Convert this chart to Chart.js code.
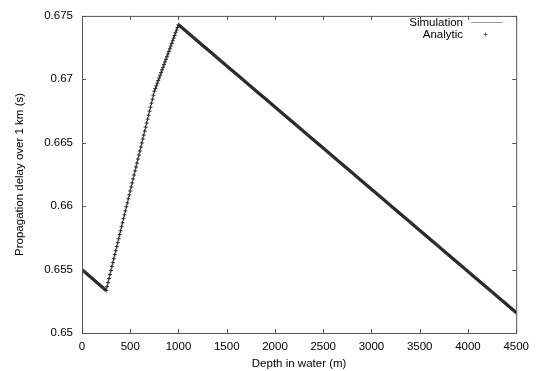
<!DOCTYPE html>
<html>
<head>
<meta charset="utf-8">
<script src="https://cdn.jsdelivr.net/npm/chart.js@4/dist/chart.umd.min.js"></script>
<style>
html,body{margin:0;padding:0;background:#fff;}
#wrap{width:536px;height:371px;}
</style>
</head>
<body>
<div id="wrap"><canvas id="c" width="536" height="371"></canvas></div>
<script>
// ---- data ----
const seriesNames = ['Simulation', 'Analytic'];
const xTitle = 'Depth in water (m)';
const yTitle = 'Propagation delay over 1 km (s)';
const xTickValues = [0, 500, 1000, 1500, 2000, 2500, 3000, 3500, 4000, 4500];
const xTickLabels = ['0', '500', '1000', '1500', '2000', '2500', '3000', '3500', '4000', '4500'];
const yTickValues = [0.65, 0.655, 0.66, 0.665, 0.67, 0.675];
const yTickLabels = ['0.65', '0.655', '0.66', '0.665', '0.67', '0.675'];

// Simulation curve (breakpoints of the piecewise line)
const simulationDepth = [0, 250, 750, 1000, 4500];
const simulationDelay = [0.65500, 0.65335, 0.66906, 0.67430, 0.65161];

// Analytic samples, 0..1000 m
const analyticDepthShallow = [
  0,10,20,30,40,50,60,70,80,90,100,110,120,130,140,150,160,170,180,190,200,210,220,230,240,250,
  260,270,280,290,300,310,320,330,340,350,360,370,380,390,400,410,420,430,440,450,460,470,480,490,500,
  510,520,530,540,550,560,570,580,590,600,610,620,630,640,650,660,670,680,690,700,710,720,730,740,750,
  760,770,780,790,800,810,820,830,840,850,860,870,880,890,900,910,920,930,940,950,960,970,980,990,1000
];
const analyticDelayShallow = [
  0.65500,0.65493,0.65487,0.65480,0.65474,0.65467,0.65460,0.65454,0.65447,0.65441,0.65434,0.65427,0.65421,0.65414,0.65408,0.65401,0.65394,0.65388,0.65381,0.65375,0.65368,0.65361,0.65355,0.65348,0.65342,0.65335,
  0.65366,0.65398,0.65429,0.65461,0.65492,0.65524,0.65555,0.65586,0.65618,0.65649,0.65681,0.65712,0.65743,0.65775,0.65806,0.65838,0.65869,0.65901,0.65932,0.65963,0.65995,0.66026,0.66058,0.66089,0.66120,
  0.66152,0.66183,0.66215,0.66246,0.66278,0.66309,0.66340,0.66372,0.66403,0.66435,0.66466,0.66498,0.66529,0.66560,0.66592,0.66623,0.66655,0.66686,0.66717,0.66749,0.66780,0.66812,0.66843,0.66875,0.66906,
  0.66927,0.66948,0.66969,0.66990,0.67011,0.67032,0.67053,0.67074,0.67095,0.67116,0.67137,0.67158,0.67178,0.67199,0.67220,0.67241,0.67262,0.67283,0.67304,0.67325,0.67346,0.67367,0.67388,0.67409,0.67430
];

// Analytic samples, 1010..4500 m
const analyticDepthDeep = [
  1010,1020,1030,1040,1050,1060,1070,1080,1090,1100,
  1110,1120,1130,1140,1150,1160,1170,1180,1190,1200,
  1210,1220,1230,1240,1250,1260,1270,1280,1290,1300,
  1310,1320,1330,1340,1350,1360,1370,1380,1390,1400,
  1410,1420,1430,1440,1450,1460,1470,1480,1490,1500,
  1510,1520,1530,1540,1550,1560,1570,1580,1590,1600,
  1610,1620,1630,1640,1650,1660,1670,1680,1690,1700,
  1710,1720,1730,1740,1750,1760,1770,1780,1790,1800,
  1810,1820,1830,1840,1850,1860,1870,1880,1890,1900,
  1910,1920,1930,1940,1950,1960,1970,1980,1990,2000,
  2010,2020,2030,2040,2050,2060,2070,2080,2090,2100,
  2110,2120,2130,2140,2150,2160,2170,2180,2190,2200,
  2210,2220,2230,2240,2250,2260,2270,2280,2290,2300,
  2310,2320,2330,2340,2350,2360,2370,2380,2390,2400,
  2410,2420,2430,2440,2450,2460,2470,2480,2490,2500,
  2510,2520,2530,2540,2550,2560,2570,2580,2590,2600,
  2610,2620,2630,2640,2650,2660,2670,2680,2690,2700,
  2710,2720,2730,2740,2750,2760,2770,2780,2790,2800,
  2810,2820,2830,2840,2850,2860,2870,2880,2890,2900,
  2910,2920,2930,2940,2950,2960,2970,2980,2990,3000,
  3010,3020,3030,3040,3050,3060,3070,3080,3090,3100,
  3110,3120,3130,3140,3150,3160,3170,3180,3190,3200,
  3210,3220,3230,3240,3250,3260,3270,3280,3290,3300,
  3310,3320,3330,3340,3350,3360,3370,3380,3390,3400,
  3410,3420,3430,3440,3450,3460,3470,3480,3490,3500,
  3510,3520,3530,3540,3550,3560,3570,3580,3590,3600,
  3610,3620,3630,3640,3650,3660,3670,3680,3690,3700,
  3710,3720,3730,3740,3750,3760,3770,3780,3790,3800,
  3810,3820,3830,3840,3850,3860,3870,3880,3890,3900,
  3910,3920,3930,3940,3950,3960,3970,3980,3990,4000,
  4010,4020,4030,4040,4050,4060,4070,4080,4090,4100,
  4110,4120,4130,4140,4150,4160,4170,4180,4190,4200,
  4210,4220,4230,4240,4250,4260,4270,4280,4290,4300,
  4310,4320,4330,4340,4350,4360,4370,4380,4390,4400,
  4410,4420,4430,4440,4450,4460,4470,4480,4490,4500
];
const analyticDelayDeep = [
  0.67424,0.67417,0.67411,0.67404,0.67398,0.67391,0.67385,0.67378,0.67372,0.67365,
  0.67359,0.67352,0.67346,0.67339,0.67333,0.67326,0.67320,0.67313,0.67307,0.67300,
  0.67294,0.67287,0.67281,0.67274,0.67268,0.67261,0.67255,0.67248,0.67242,0.67236,
  0.67229,0.67223,0.67216,0.67210,0.67203,0.67197,0.67190,0.67184,0.67177,0.67171,
  0.67164,0.67158,0.67151,0.67145,0.67138,0.67132,0.67125,0.67119,0.67112,0.67106,
  0.67099,0.67093,0.67086,0.67080,0.67073,0.67067,0.67060,0.67054,0.67048,0.67041,
  0.67035,0.67028,0.67022,0.67015,0.67009,0.67002,0.66996,0.66989,0.66983,0.66976,
  0.66970,0.66963,0.66957,0.66950,0.66944,0.66937,0.66931,0.66924,0.66918,0.66911,
  0.66905,0.66898,0.66892,0.66885,0.66879,0.66872,0.66866,0.66860,0.66853,0.66847,
  0.66840,0.66834,0.66827,0.66821,0.66814,0.66808,0.66801,0.66795,0.66788,0.66782,
  0.66775,0.66769,0.66762,0.66756,0.66749,0.66743,0.66736,0.66730,0.66723,0.66717,
  0.66710,0.66704,0.66697,0.66691,0.66684,0.66678,0.66672,0.66665,0.66659,0.66652,
  0.66646,0.66639,0.66633,0.66626,0.66620,0.66613,0.66607,0.66600,0.66594,0.66587,
  0.66581,0.66574,0.66568,0.66561,0.66555,0.66548,0.66542,0.66535,0.66529,0.66522,
  0.66516,0.66509,0.66503,0.66496,0.66490,0.66484,0.66477,0.66471,0.66464,0.66458,
  0.66451,0.66445,0.66438,0.66432,0.66425,0.66419,0.66412,0.66406,0.66399,0.66393,
  0.66386,0.66380,0.66373,0.66367,0.66360,0.66354,0.66347,0.66341,0.66334,0.66328,
  0.66321,0.66315,0.66308,0.66302,0.66296,0.66289,0.66283,0.66276,0.66270,0.66263,
  0.66257,0.66250,0.66244,0.66237,0.66231,0.66224,0.66218,0.66211,0.66205,0.66198,
  0.66192,0.66185,0.66179,0.66172,0.66166,0.66159,0.66153,0.66146,0.66140,0.66133,
  0.66127,0.66120,0.66114,0.66108,0.66101,0.66095,0.66088,0.66082,0.66075,0.66069,
  0.66062,0.66056,0.66049,0.66043,0.66036,0.66030,0.66023,0.66017,0.66010,0.66004,
  0.65997,0.65991,0.65984,0.65978,0.65971,0.65965,0.65958,0.65952,0.65945,0.65939,
  0.65932,0.65926,0.65919,0.65913,0.65907,0.65900,0.65894,0.65887,0.65881,0.65874,
  0.65868,0.65861,0.65855,0.65848,0.65842,0.65835,0.65829,0.65822,0.65816,0.65809,
  0.65803,0.65796,0.65790,0.65783,0.65777,0.65770,0.65764,0.65757,0.65751,0.65744,
  0.65738,0.65731,0.65725,0.65719,0.65712,0.65706,0.65699,0.65693,0.65686,0.65680,
  0.65673,0.65667,0.65660,0.65654,0.65647,0.65641,0.65634,0.65628,0.65621,0.65615,
  0.65608,0.65602,0.65595,0.65589,0.65582,0.65576,0.65569,0.65563,0.65556,0.65550,
  0.65543,0.65537,0.65531,0.65524,0.65518,0.65511,0.65505,0.65498,0.65492,0.65485,
  0.65479,0.65472,0.65466,0.65459,0.65453,0.65446,0.65440,0.65433,0.65427,0.65420,
  0.65414,0.65407,0.65401,0.65394,0.65388,0.65381,0.65375,0.65368,0.65362,0.65355,
  0.65349,0.65343,0.65336,0.65330,0.65323,0.65317,0.65310,0.65304,0.65297,0.65291,
  0.65284,0.65278,0.65271,0.65265,0.65258,0.65252,0.65245,0.65239,0.65232,0.65226,
  0.65219,0.65213,0.65206,0.65200,0.65193,0.65187,0.65180,0.65174,0.65167,0.65161
];

// ---- chart ----
const FONT = "'Liberation Sans', Arial, Helvetica, sans-serif";
const FSIZE = 11.5;
const FRAME = '#555';

const toPoints = (xs, ys) => xs.map((x, i) => ({x: x, y: ys[i]}));
const analyticPoints = toPoints(analyticDepthShallow, analyticDelayShallow)
  .concat(toPoints(analyticDepthDeep, analyticDelayDeep));

const framePlugin = {
  id: 'gnuframe',
  afterDatasetsDraw(chart) {
    const {ctx, chartArea: a, scales} = chart;
    ctx.save();
    ctx.strokeStyle = FRAME;
    ctx.lineWidth = 1;
    ctx.beginPath();
    ctx.rect(a.left + 0.5, a.top + 0.5, a.right - a.left, a.bottom - a.top);
    ctx.stroke();
    const tl = 4;
    ctx.beginPath();
    scales.x.ticks.forEach(t => {
      const px = Math.round(scales.x.getPixelForValue(t.value)) + 0.5;
      ctx.moveTo(px, a.bottom); ctx.lineTo(px, a.bottom - tl);
      ctx.moveTo(px, a.top); ctx.lineTo(px, a.top + tl);
    });
    scales.y.ticks.forEach(t => {
      const py = Math.round(scales.y.getPixelForValue(t.value)) + 0.5;
      ctx.moveTo(a.left, py); ctx.lineTo(a.left + tl, py);
      ctx.moveTo(a.right, py); ctx.lineTo(a.right - tl, py);
    });
    ctx.stroke();
    ctx.restore();
  },
  afterDraw(chart) {
    const {ctx} = chart;
    const ds = chart.data.datasets;
    ctx.save();
    ctx.font = FSIZE + 'px ' + FONT;
    ctx.fillStyle = '#000';
    ctx.textAlign = 'right';
    ctx.textBaseline = 'middle';
    ctx.fillText(ds[0].label, 463, 22.5);
    ctx.fillText(ds[1].label, 463, 34.5);
    ctx.strokeStyle = '#999';
    ctx.lineWidth = 1;
    ctx.beginPath();
    ctx.moveTo(471, 22.5); ctx.lineTo(503, 22.5);
    ctx.stroke();
    ctx.strokeStyle = '#666';
    ctx.beginPath();
    ctx.moveTo(485.5, 32.5); ctx.lineTo(485.5, 36.5);
    ctx.moveTo(483.5, 34.5); ctx.lineTo(487.5, 34.5);
    ctx.stroke();
    ctx.restore();
  }
};

new Chart(document.getElementById('c'), {
  type: 'scatter',
  data: {
    datasets: [
      {
        label: seriesNames[0],
        data: toPoints(simulationDepth, simulationDelay),
        showLine: true,
        borderColor: '#777',
        borderWidth: 1,
        pointRadius: 0,
        order: 1
      },
      {
        label: seriesNames[1],
        data: analyticPoints,
        showLine: false,
        pointStyle: 'cross',
        pointRadius: 2,
        pointBorderWidth: 1,
        pointBorderColor: '#2a2a2a',
        pointBackgroundColor: '#2a2a2a',
        order: 0
      }
    ]
  },
  options: {
    responsive: false,
    animation: false,
    devicePixelRatio: 1,
    layout: {padding: {left: 0, top: 12, right: 19, bottom: 0}},
    plugins: {legend: {display: false}, tooltip: {enabled: false}},
    scales: {
      x: {
        type: 'linear',
        min: 0, max: 4500,
        afterFit: s => { s.height = 38; },
        afterBuildTicks: s => { s.ticks = xTickValues.map(v => ({value: v})); },
        grid: {display: false, drawTicks: false},
        border: {display: false},
        ticks: {
          autoSkip: false, maxRotation: 0, padding: 7,
          color: '#000', font: {family: FONT, size: FSIZE},
          callback: (v, i) => xTickLabels[i]
        },
        title: {display: true, text: xTitle, color: '#000', font: {family: FONT, size: FSIZE}, padding: {top: 2, bottom: 0}}
      },
      y: {
        type: 'linear',
        min: 0.65, max: 0.675,
        afterFit: s => { s.width = 82; },
        afterBuildTicks: s => { s.ticks = yTickValues.map(v => ({value: v})); },
        grid: {display: false, drawTicks: false},
        border: {display: false},
        ticks: {
          autoSkip: false, padding: 9,
          color: '#000', font: {family: FONT, size: FSIZE},
          callback: (v, i) => yTickLabels[i]
        },
        title: {display: true, text: yTitle, color: '#000', font: {family: FONT, size: FSIZE}, padding: {top: 13, bottom: 0}}
      }
    }
  },
  plugins: [framePlugin]
});
</script>
</body>
</html>
